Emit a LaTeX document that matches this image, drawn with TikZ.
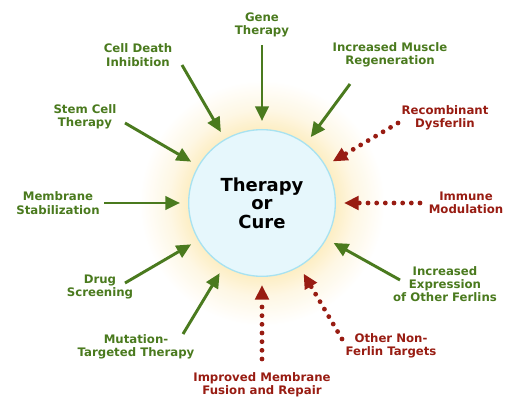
\documentclass[tikz,border=0pt]{standalone}
\usepackage{fontspec}
\setmainfont{DejaVu Sans}
\usetikzlibrary{arrows.meta}
\definecolor{gtext}{RGB}{74,122,30}
\definecolor{rtext}{RGB}{152,28,18}
\definecolor{cfill}{RGB}{230,247,252}
\definecolor{cborder}{RGB}{168,226,240}
\definecolor{glowc}{RGB}{253,238,196}
\definecolor{glowm}{RGB}{254,247,228}
\pgfdeclareradialshading{glow}{\pgfpoint{0bp}{0bp}}{color(0bp)=(glowc); color(15bp)=(glowc); color(19bp)=(glowm); color(25bp)=(white); color(50bp)=(white)}
\begin{document}
\begin{tikzpicture}[x=0.75pt,y=-0.75pt,
  glab/.style={text=gtext, font=\bfseries\fontsize{8.8}{10}\selectfont, align=center},
  rlab/.style={text=rtext, font=\bfseries\fontsize{8.8}{10}\selectfont, align=center},
  garrow/.style={draw=gtext, line width=2.2pt, -{Triangle[length=11pt,width=10pt]}, shorten >=6pt},
  rarrow/.style={draw=rtext, line width=3.6pt, line cap=round, dash pattern=on 0pt off 6.5pt, -{Triangle[length=11pt,width=10pt]}, shorten >=6pt}]
\useasboundingbox (0,0) rectangle (515,413);
\shade[shading=glow] (262,203) circle (92pt);
\node[circle, draw=cborder, line width=1pt, fill=cfill, minimum size=110pt, inner sep=0pt,
  font=\bfseries\fontsize{13.5}{13.9}\selectfont, align=center] (cure) at (262,203) {Therapy\\or\\Cure};

\node[glab] (gene) at (262,25) {Gene\\Therapy};
\node[glab] (ims) at (390,55) {Increased Muscle\\Regeneration};
\node[glab] (cdi) at (138,55) {Cell Death\\Inhibition};
\node[glab] (stem) at (85,117) {Stem Cell\\Therapy};
\node[glab] (mst) at (58,203) {Membrane\\Stabilization};
\node[glab] (drug) at (100,287) {Drug\\Screening};
\node[glab] (mut) at (136,347) {Mutation-\\Targeted Therapy};
\node[rlab] (rec) at (445,118) {Recombinant\\Dysferlin};
\node[rlab] (imm) at (466,203) {Immune\\Modulation};
\node[glab] (iex) at (445,284) {Increased\\Expression\\of Other Ferlins};
\node[rlab] (onf) at (391,346) {Other Non-\\Ferlin Targets};
\node[rlab] (imf) at (262,385) {Improved Membrane\\Fusion and Repair};

\coordinate (gene-t) at (262,45);
\coordinate (ims-t) at (350,84);
\coordinate (cdi-t) at (182,65);
\coordinate (stem-t) at (125,123);
\coordinate (mst-t) at (104,203);
\coordinate (drug-t) at (125,283);
\coordinate (mut-t) at (183,334);
\coordinate (rec-t) at (398,123);
\coordinate (imm-t) at (420,203);
\coordinate (iex-t) at (400,280);
\coordinate (onf-t) at (342,339);
\coordinate (imf-t) at (262,359);

\draw[garrow] (gene-t) -- (cure);
\draw[garrow] (ims-t) -- (cure);
\draw[garrow] (cdi-t) -- (cure);
\draw[garrow] (stem-t) -- (cure);
\draw[garrow] (mst-t) -- (cure);
\draw[garrow] (drug-t) -- (cure);
\draw[garrow] (mut-t) -- (cure);
\draw[garrow] (iex-t) -- (cure);
\draw[rarrow] (rec-t) -- (cure);
\draw[rarrow] (imm-t) -- (cure);
\draw[rarrow] (onf-t) -- (cure);
\draw[rarrow] (imf-t) -- (cure);
\end{tikzpicture}
\end{document}
